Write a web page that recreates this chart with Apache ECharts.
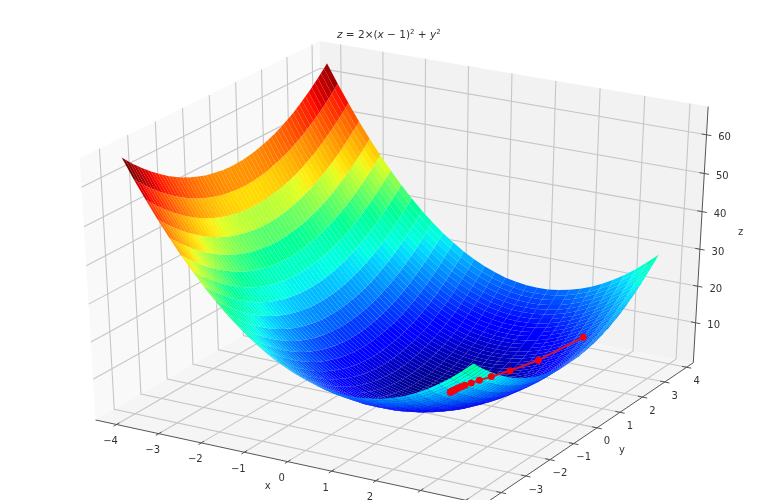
<!DOCTYPE html>
<html>
<head>
<meta charset="utf-8">
<title>gradient descent surface</title>
<style>
html, body { margin: 0; padding: 0; background: #fff; }
#main { width: 782px; height: 500px; filter: blur(0.6px); }
</style>
<script src="https://cdn.jsdelivr.net/npm/echarts@6/dist/echarts.min.js"></script>
</head>
<body>
<div id="main"></div>
<script>
// axis ranges and ticks
var xLim = [-4.5, 4.4];
var yLim = [-4.69, 4.31];
var zLim = [-1.1, 67.2];
var xTicks = [-4, -3, -2, -1, 0, 1, 2, 3, 4];
var yTicks = [-4, -3, -2, -1, 0, 1, 2, 3, 4];
var zTicks = [10, 20, 30, 40, 50, 60];

// surface samples, one row per x, one column per y
var xVals = [-4, -3.75, -3.5, -3.25, -3, -2.75, -2.5, -2.25, -2, -1.75, -1.5, -1.25, -1, -0.75, -0.5, -0.25, 0, 0.25, 0.5, 0.75, 1, 1.25, 1.5, 1.75, 2, 2.25, 2.5, 2.75, 3, 3.25, 3.5, 3.75];
var yVals = [-4, -3.875, -3.75, -3.625, -3.5, -3.375, -3.25, -3.125, -3, -2.875, -2.75, -2.625, -2.5, -2.375, -2.25, -2.125, -2, -1.875, -1.75, -1.625, -1.5, -1.375, -1.25, -1.125, -1, -0.875, -0.75, -0.625, -0.5, -0.375, -0.25, -0.125, 0, 0.125, 0.25, 0.375, 0.5, 0.625, 0.75, 0.875, 1, 1.125, 1.25, 1.375, 1.5, 1.625, 1.75, 1.875, 2, 2.125, 2.25, 2.375, 2.5, 2.625, 2.75, 2.875, 3, 3.125, 3.25, 3.375, 3.5, 3.625, 3.75];
var zRows = [
[66,65,64.1,63.1,62.3,61.4,60.6,59.8,59,58.3,57.6,56.9,56.3,55.6,55.1,54.5,54,53.5,53.1,52.6,52.3,51.9,51.6,51.3,51,50.8,50.6,50.4,50.3,50.1,50.1,50,50,50,50.1,50.1,50.3,50.4,50.6,50.8,51,51.3,51.6,51.9,52.3,52.6,53.1,53.5,54,54.5,55.1,55.6,56.3,56.9,57.6,58.3,59,59.8,60.6,61.4,62.3,63.1,64.1],
[61.1,60.1,59.2,58.2,57.4,56.5,55.7,54.9,54.1,53.4,52.7,52,51.4,50.7,50.2,49.6,49.1,48.6,48.2,47.7,47.4,47,46.7,46.4,46.1,45.9,45.7,45.5,45.4,45.2,45.2,45.1,45.1,45.1,45.2,45.2,45.4,45.5,45.7,45.9,46.1,46.4,46.7,47,47.4,47.7,48.2,48.6,49.1,49.6,50.2,50.7,51.4,52,52.7,53.4,54.1,54.9,55.7,56.5,57.4,58.2,59.2],
[56.5,55.5,54.6,53.6,52.8,51.9,51.1,50.3,49.5,48.8,48.1,47.4,46.8,46.1,45.6,45,44.5,44,43.6,43.1,42.8,42.4,42.1,41.8,41.5,41.3,41.1,40.9,40.8,40.6,40.6,40.5,40.5,40.5,40.6,40.6,40.8,40.9,41.1,41.3,41.5,41.8,42.1,42.4,42.8,43.1,43.6,44,44.5,45,45.6,46.1,46.8,47.4,48.1,48.8,49.5,50.3,51.1,51.9,52.8,53.6,54.6],
[52.1,51.1,50.2,49.2,48.4,47.5,46.7,45.9,45.1,44.4,43.7,43,42.4,41.7,41.2,40.6,40.1,39.6,39.2,38.7,38.4,38,37.7,37.4,37.1,36.9,36.7,36.5,36.4,36.2,36.2,36.1,36.1,36.1,36.2,36.2,36.4,36.5,36.7,36.9,37.1,37.4,37.7,38,38.4,38.7,39.2,39.6,40.1,40.6,41.2,41.7,42.4,43,43.7,44.4,45.1,45.9,46.7,47.5,48.4,49.2,50.2],
[48,47,46.1,45.1,44.3,43.4,42.6,41.8,41,40.3,39.6,38.9,38.3,37.6,37.1,36.5,36,35.5,35.1,34.6,34.3,33.9,33.6,33.3,33,32.8,32.6,32.4,32.3,32.1,32.1,32,32,32,32.1,32.1,32.3,32.4,32.6,32.8,33,33.3,33.6,33.9,34.3,34.6,35.1,35.5,36,36.5,37.1,37.6,38.3,38.9,39.6,40.3,41,41.8,42.6,43.4,44.3,45.1,46.1],
[44.1,43.1,42.2,41.2,40.4,39.5,38.7,37.9,37.1,36.4,35.7,35,34.4,33.7,33.2,32.6,32.1,31.6,31.2,30.7,30.4,30,29.7,29.4,29.1,28.9,28.7,28.5,28.4,28.2,28.2,28.1,28.1,28.1,28.2,28.2,28.4,28.5,28.7,28.9,29.1,29.4,29.7,30,30.4,30.7,31.2,31.6,32.1,32.6,33.2,33.7,34.4,35,35.7,36.4,37.1,37.9,38.7,39.5,40.4,41.2,42.2],
[40.5,39.5,38.6,37.6,36.8,35.9,35.1,34.3,33.5,32.8,32.1,31.4,30.8,30.1,29.6,29,28.5,28,27.6,27.1,26.8,26.4,26.1,25.8,25.5,25.3,25.1,24.9,24.8,24.6,24.6,24.5,24.5,24.5,24.6,24.6,24.8,24.9,25.1,25.3,25.5,25.8,26.1,26.4,26.8,27.1,27.6,28,28.5,29,29.6,30.1,30.8,31.4,32.1,32.8,33.5,34.3,35.1,35.9,36.8,37.6,38.6],
[37.1,36.1,35.2,34.2,33.4,32.5,31.7,30.9,30.1,29.4,28.7,28,27.4,26.7,26.2,25.6,25.1,24.6,24.2,23.7,23.4,23,22.7,22.4,22.1,21.9,21.7,21.5,21.4,21.2,21.2,21.1,21.1,21.1,21.2,21.2,21.4,21.5,21.7,21.9,22.1,22.4,22.7,23,23.4,23.7,24.2,24.6,25.1,25.6,26.2,26.7,27.4,28,28.7,29.4,30.1,30.9,31.7,32.5,33.4,34.2,35.2],
[34,33,32.1,31.1,30.3,29.4,28.6,27.8,27,26.3,25.6,24.9,24.3,23.6,23.1,22.5,22,21.5,21.1,20.6,20.3,19.9,19.6,19.3,19,18.8,18.6,18.4,18.3,18.1,18.1,18,18,18,18.1,18.1,18.3,18.4,18.6,18.8,19,19.3,19.6,19.9,20.3,20.6,21.1,21.5,22,22.5,23.1,23.6,24.3,24.9,25.6,26.3,27,27.8,28.6,29.4,30.3,31.1,32.1],
[31.1,30.1,29.2,28.2,27.4,26.5,25.7,24.9,24.1,23.4,22.7,22,21.4,20.7,20.2,19.6,19.1,18.6,18.2,17.7,17.4,17,16.7,16.4,16.1,15.9,15.7,15.5,15.4,15.2,15.2,15.1,15.1,15.1,15.2,15.2,15.4,15.5,15.7,15.9,16.1,16.4,16.7,17,17.4,17.7,18.2,18.6,19.1,19.6,20.2,20.7,21.4,22,22.7,23.4,24.1,24.9,25.7,26.5,27.4,28.2,29.2],
[28.5,27.5,26.6,25.6,24.8,23.9,23.1,22.3,21.5,20.8,20.1,19.4,18.8,18.1,17.6,17,16.5,16,15.6,15.1,14.8,14.4,14.1,13.8,13.5,13.3,13.1,12.9,12.8,12.6,12.6,12.5,12.5,12.5,12.6,12.6,12.8,12.9,13.1,13.3,13.5,13.8,14.1,14.4,14.8,15.1,15.6,16,16.5,17,17.6,18.1,18.8,19.4,20.1,20.8,21.5,22.3,23.1,23.9,24.8,25.6,26.6],
[26.1,25.1,24.2,23.2,22.4,21.5,20.7,19.9,19.1,18.4,17.7,17,16.4,15.7,15.2,14.6,14.1,13.6,13.2,12.7,12.4,12,11.7,11.4,11.1,10.9,10.7,10.5,10.4,10.2,10.2,10.1,10.1,10.1,10.2,10.2,10.4,10.5,10.7,10.9,11.1,11.4,11.7,12,12.4,12.7,13.2,13.6,14.1,14.6,15.2,15.7,16.4,17,17.7,18.4,19.1,19.9,20.7,21.5,22.4,23.2,24.2],
[24,23,22.1,21.1,20.3,19.4,18.6,17.8,17,16.3,15.6,14.9,14.3,13.6,13.1,12.5,12,11.5,11.1,10.6,10.3,9.9,9.6,9.3,9,8.8,8.6,8.4,8.3,8.1,8.1,8,8,8,8.1,8.1,8.3,8.4,8.6,8.8,9,9.3,9.6,9.9,10.3,10.6,11.1,11.5,12,12.5,13.1,13.6,14.3,14.9,15.6,16.3,17,17.8,18.6,19.4,20.3,21.1,22.1],
[22.1,21.1,20.2,19.2,18.4,17.5,16.7,15.9,15.1,14.4,13.7,13,12.4,11.7,11.2,10.6,10.1,9.6,9.2,8.7,8.4,8,7.7,7.4,7.1,6.9,6.7,6.5,6.4,6.2,6.2,6.1,6.1,6.1,6.2,6.2,6.4,6.5,6.7,6.9,7.1,7.4,7.7,8,8.4,8.7,9.2,9.6,10.1,10.6,11.2,11.7,12.4,13,13.7,14.4,15.1,15.9,16.7,17.5,18.4,19.2,20.2],
[20.5,19.5,18.6,17.6,16.8,15.9,15.1,14.3,13.5,12.8,12.1,11.4,10.8,10.1,9.6,9,8.5,8,7.6,7.1,6.8,6.4,6.1,5.8,5.5,5.3,5.1,4.9,4.8,4.6,4.6,4.5,4.5,4.5,4.6,4.6,4.8,4.9,5.1,5.3,5.5,5.8,6.1,6.4,6.8,7.1,7.6,8,8.5,9,9.6,10.1,10.8,11.4,12.1,12.8,13.5,14.3,15.1,15.9,16.8,17.6,18.6],
[19.1,18.1,17.2,16.2,15.4,14.5,13.7,12.9,12.1,11.4,10.7,10,9.4,8.7,8.2,7.6,7.1,6.6,6.2,5.7,5.4,5,4.7,4.4,4.1,3.9,3.7,3.5,3.4,3.2,3.2,3.1,3.1,3.1,3.2,3.2,3.4,3.5,3.7,3.9,4.1,4.4,4.7,5,5.4,5.7,6.2,6.6,7.1,7.6,8.2,8.7,9.4,10,10.7,11.4,12.1,12.9,13.7,14.5,15.4,16.2,17.2],
[18,17,16.1,15.1,14.3,13.4,12.6,11.8,11,10.3,9.6,8.9,8.3,7.6,7.1,6.5,6,5.5,5.1,4.6,4.3,3.9,3.6,3.3,3,2.8,2.6,2.4,2.3,2.1,2.1,2,2,2,2.1,2.1,2.3,2.4,2.6,2.8,3,3.3,3.6,3.9,4.3,4.6,5.1,5.5,6,6.5,7.1,7.6,8.3,8.9,9.6,10.3,11,11.8,12.6,13.4,14.3,15.1,16.1],
[17.1,16.1,15.2,14.2,13.4,12.5,11.7,10.9,10.1,9.4,8.7,8,7.4,6.7,6.2,5.6,5.1,4.6,4.2,3.7,3.4,3,2.7,2.4,2.1,1.9,1.7,1.5,1.4,1.2,1.2,1.1,1.1,1.1,1.2,1.2,1.4,1.5,1.7,1.9,2.1,2.4,2.7,3,3.4,3.7,4.2,4.6,5.1,5.6,6.2,6.7,7.4,8,8.7,9.4,10.1,10.9,11.7,12.5,13.4,14.2,15.2],
[16.5,15.5,14.6,13.6,12.8,11.9,11.1,10.3,9.5,8.8,8.1,7.4,6.8,6.1,5.6,5,4.5,4,3.6,3.1,2.8,2.4,2.1,1.8,1.5,1.3,1.1,0.9,0.8,0.6,0.6,0.5,0.5,0.5,0.6,0.6,0.8,0.9,1.1,1.3,1.5,1.8,2.1,2.4,2.8,3.1,3.6,4,4.5,5,5.6,6.1,6.8,7.4,8.1,8.8,9.5,10.3,11.1,11.9,12.8,13.6,14.6],
[16.1,15.1,14.2,13.2,12.4,11.5,10.7,9.9,9.1,8.4,7.7,7,6.4,5.7,5.2,4.6,4.1,3.6,3.2,2.7,2.4,2,1.7,1.4,1.1,0.9,0.7,0.5,0.4,0.2,0.2,0.1,0.1,0.1,0.2,0.2,0.4,0.5,0.7,0.9,1.1,1.4,1.7,2,2.4,2.7,3.2,3.6,4.1,4.6,5.2,5.7,6.4,7,7.7,8.4,9.1,9.9,10.7,11.5,12.4,13.2,14.2],
[16,15,14.1,13.1,12.3,11.4,10.6,9.8,9,8.3,7.6,6.9,6.3,5.6,5.1,4.5,4,3.5,3.1,2.6,2.3,1.9,1.6,1.3,1,0.8,0.6,0.4,0.3,0.1,0.1,0,0,0,0.1,0.1,0.3,0.4,0.6,0.8,1,1.3,1.6,1.9,2.3,2.6,3.1,3.5,4,4.5,5.1,5.6,6.3,6.9,7.6,8.3,9,9.8,10.6,11.4,12.3,13.1,14.1],
[16.1,15.1,14.2,13.2,12.4,11.5,10.7,9.9,9.1,8.4,7.7,7,6.4,5.7,5.2,4.6,4.1,3.6,3.2,2.7,2.4,2,1.7,1.4,1.1,0.9,0.7,0.5,0.4,0.2,0.2,0.1,0.1,0.1,0.2,0.2,0.4,0.5,0.7,0.9,1.1,1.4,1.7,2,2.4,2.7,3.2,3.6,4.1,4.6,5.2,5.7,6.4,7,7.7,8.4,9.1,9.9,10.7,11.5,12.4,13.2,14.2],
[16.5,15.5,14.6,13.6,12.8,11.9,11.1,10.3,9.5,8.8,8.1,7.4,6.8,6.1,5.6,5,4.5,4,3.6,3.1,2.8,2.4,2.1,1.8,1.5,1.3,1.1,0.9,0.8,0.6,0.6,0.5,0.5,0.5,0.6,0.6,0.8,0.9,1.1,1.3,1.5,1.8,2.1,2.4,2.8,3.1,3.6,4,4.5,5,5.6,6.1,6.8,7.4,8.1,8.8,9.5,10.3,11.1,11.9,12.8,13.6,14.6],
[17.1,16.1,15.2,14.2,13.4,12.5,11.7,10.9,10.1,9.4,8.7,8,7.4,6.7,6.2,5.6,5.1,4.6,4.2,3.7,3.4,3,2.7,2.4,2.1,1.9,1.7,1.5,1.4,1.2,1.2,1.1,1.1,1.1,1.2,1.2,1.4,1.5,1.7,1.9,2.1,2.4,2.7,3,3.4,3.7,4.2,4.6,5.1,5.6,6.2,6.7,7.4,8,8.7,9.4,10.1,10.9,11.7,12.5,13.4,14.2,15.2],
[18,17,16.1,15.1,14.3,13.4,12.6,11.8,11,10.3,9.6,8.9,8.3,7.6,7.1,6.5,6,5.5,5.1,4.6,4.3,3.9,3.6,3.3,3,2.8,2.6,2.4,2.3,2.1,2.1,2,2,2,2.1,2.1,2.3,2.4,2.6,2.8,3,3.3,3.6,3.9,4.3,4.6,5.1,5.5,6,6.5,7.1,7.6,8.3,8.9,9.6,10.3,11,11.8,12.6,13.4,14.3,15.1,16.1],
[19.1,18.1,17.2,16.2,15.4,14.5,13.7,12.9,12.1,11.4,10.7,10,9.4,8.7,8.2,7.6,7.1,6.6,6.2,5.7,5.4,5,4.7,4.4,4.1,3.9,3.7,3.5,3.4,3.2,3.2,3.1,3.1,3.1,3.2,3.2,3.4,3.5,3.7,3.9,4.1,4.4,4.7,5,5.4,5.7,6.2,6.6,7.1,7.6,8.2,8.7,9.4,10,10.7,11.4,12.1,12.9,13.7,14.5,15.4,16.2,17.2],
[20.5,19.5,18.6,17.6,16.8,15.9,15.1,14.3,13.5,12.8,12.1,11.4,10.8,10.1,9.6,9,8.5,8,7.6,7.1,6.8,6.4,6.1,5.8,5.5,5.3,5.1,4.9,4.8,4.6,4.6,4.5,4.5,4.5,4.6,4.6,4.8,4.9,5.1,5.3,5.5,5.8,6.1,6.4,6.8,7.1,7.6,8,8.5,9,9.6,10.1,10.8,11.4,12.1,12.8,13.5,14.3,15.1,15.9,16.8,17.6,18.6],
[22.1,21.1,20.2,19.2,18.4,17.5,16.7,15.9,15.1,14.4,13.7,13,12.4,11.7,11.2,10.6,10.1,9.6,9.2,8.7,8.4,8,7.7,7.4,7.1,6.9,6.7,6.5,6.4,6.2,6.2,6.1,6.1,6.1,6.2,6.2,6.4,6.5,6.7,6.9,7.1,7.4,7.7,8,8.4,8.7,9.2,9.6,10.1,10.6,11.2,11.7,12.4,13,13.7,14.4,15.1,15.9,16.7,17.5,18.4,19.2,20.2],
[24,23,22.1,21.1,20.3,19.4,18.6,17.8,17,16.3,15.6,14.9,14.3,13.6,13.1,12.5,12,11.5,11.1,10.6,10.3,9.9,9.6,9.3,9,8.8,8.6,8.4,8.3,8.1,8.1,8,8,8,8.1,8.1,8.3,8.4,8.6,8.8,9,9.3,9.6,9.9,10.3,10.6,11.1,11.5,12,12.5,13.1,13.6,14.3,14.9,15.6,16.3,17,17.8,18.6,19.4,20.3,21.1,22.1],
[26.1,25.1,24.2,23.2,22.4,21.5,20.7,19.9,19.1,18.4,17.7,17,16.4,15.7,15.2,14.6,14.1,13.6,13.2,12.7,12.4,12,11.7,11.4,11.1,10.9,10.7,10.5,10.4,10.2,10.2,10.1,10.1,10.1,10.2,10.2,10.4,10.5,10.7,10.9,11.1,11.4,11.7,12,12.4,12.7,13.2,13.6,14.1,14.6,15.2,15.7,16.4,17,17.7,18.4,19.1,19.9,20.7,21.5,22.4,23.2,24.2],
[28.5,27.5,26.6,25.6,24.8,23.9,23.1,22.3,21.5,20.8,20.1,19.4,18.8,18.1,17.6,17,16.5,16,15.6,15.1,14.8,14.4,14.1,13.8,13.5,13.3,13.1,12.9,12.8,12.6,12.6,12.5,12.5,12.5,12.6,12.6,12.8,12.9,13.1,13.3,13.5,13.8,14.1,14.4,14.8,15.1,15.6,16,16.5,17,17.6,18.1,18.8,19.4,20.1,20.8,21.5,22.3,23.1,23.9,24.8,25.6,26.6],
[31.1,30.1,29.2,28.2,27.4,26.5,25.7,24.9,24.1,23.4,22.7,22,21.4,20.7,20.2,19.6,19.1,18.6,18.2,17.7,17.4,17,16.7,16.4,16.1,15.9,15.7,15.5,15.4,15.2,15.2,15.1,15.1,15.1,15.2,15.2,15.4,15.5,15.7,15.9,16.1,16.4,16.7,17,17.4,17.7,18.2,18.6,19.1,19.6,20.2,20.7,21.4,22,22.7,23.4,24.1,24.9,25.7,26.5,27.4,28.2,29.2]
];

// red descent path
var pathX = [3, 2.2, 1.72, 1.43, 1.26, 1.16, 1.09, 1.06, 1.03, 1.02, 1.01, 1.01, 1, 1, 1, 1];
var pathY = [2, 1.6, 1.28, 1.02, 0.82, 0.66, 0.52, 0.42, 0.34, 0.27, 0.22, 0.17, 0.14, 0.11, 0.09, 0.07];
var pathZ = [12, 5.44, 2.68, 1.42, 0.81, 0.48, 0.29, 0.18, 0.12, 0.07, 0.05, 0.03, 0.02, 0.01, 0.01, 0];

// colour ramp (jet-like, greens more saturated)
var jetPos = {
    r: [0, 0.48, 0.66, 0.89, 1],
    g: [0, 0.125, 0.375, 0.64, 0.91, 1],
    b: [0, 0.11, 0.34, 0.68, 1]
};
var jetVal = {
    r: [0, 0, 1, 1, 0.5],
    g: [0, 0, 1, 1, 0, 0],
    b: [0.5, 1, 1, 0, 0]
};

function jetPart(k, t) {
    var p = jetPos[k], v = jetVal[k];
    for (var i = 1; i < p.length; i++) {
        if (t <= p[i]) {
            return v[i - 1] + (v[i] - v[i - 1]) * (t - p[i - 1]) / (p[i] - p[i - 1]);
        }
    }
    return v[v.length - 1];
}

function jet(t) {
    return 'rgb(' + Math.round(jetPart('r', t) * 255) + ',' + Math.round(jetPart('g', t) * 255) + ',' + Math.round(jetPart('b', t) * 255) + ')';
}

// view: elev 30, azim -60, dist 10
var elev = 30 * Math.PI / 180, azim = -60 * Math.PI / 180, dist = 10;
var n = [Math.cos(azim) * Math.cos(elev), Math.sin(azim) * Math.cos(elev), Math.sin(elev)];
var uu = [-Math.sin(azim), Math.cos(azim), 0];
var vv = [n[1] * uu[2] - n[2] * uu[1], n[2] * uu[0] - n[0] * uu[2], n[0] * uu[1] - n[1] * uu[0]];

// box coords run -0.5..0.5
function projBox(X, Y, Z) {
    var d = dist - (n[0] * X + n[1] * Y + n[2] * Z);
    return [(uu[0] * X + uu[1] * Y) / d, (vv[0] * X + vv[1] * Y + vv[2] * Z) / d, d];
}
function bx(x) { return (x - xLim[0]) / (xLim[1] - xLim[0]) - 0.5; }
function by(y) { return (y - yLim[0]) / (yLim[1] - yLim[0]) - 0.5; }
function bz(z) { return (z - zLim[0]) / (zLim[1] - zLim[0]) - 0.5; }
function proj(x, y, z) { return projBox(bx(x), by(y), bz(z)); }

// surface faces, far ones first
var faces = [];
var zMin = Infinity, zMax = -Infinity;
for (var i = 0; i < xVals.length - 1; i++) {
    for (var j = 0; j < yVals.length - 1; j++) {
        var a = proj(xVals[i], yVals[j], zRows[i][j]);
        var b = proj(xVals[i + 1], yVals[j], zRows[i + 1][j]);
        var c = proj(xVals[i + 1], yVals[j + 1], zRows[i + 1][j + 1]);
        var e = proj(xVals[i], yVals[j + 1], zRows[i][j + 1]);
        var mean = (zRows[i][j] + zRows[i + 1][j] + zRows[i + 1][j + 1] + zRows[i][j + 1]) / 4;
        zMin = Math.min(zMin, mean);
        zMax = Math.max(zMax, mean);
        faces.push({ value: [a[0], a[1], b[0], b[1], c[0], c[1], e[0], e[1], mean], depth: (a[2] + b[2] + c[2] + e[2]) / 4 });
    }
}
faces.sort(function (p, q) { return q.depth - p.depth; });

function renderFace(params, api) {
    var pts = [];
    for (var k = 0; k < 4; k++) {
        pts.push(api.coord([api.value(k * 2), api.value(k * 2 + 1)]));
    }
    return {
        type: 'polygon',
        shape: { points: pts },
        style: { fill: jet((api.value(8) - zMin) / (zMax - zMin)) }
    };
}

// panes
var panes = [
    { value: [-0.5, -0.5, -0.5, -0.5, 0.5, -0.5, -0.5, 0.5, 0.5, -0.5, -0.5, 0.5], fill: '#f9f9f9' },
    { value: [-0.5, 0.5, -0.5, 0.5, 0.5, -0.5, 0.5, 0.5, 0.5, -0.5, 0.5, 0.5], fill: '#f2f2f2' },
    { value: [-0.5, -0.5, -0.5, 0.5, -0.5, -0.5, 0.5, 0.5, -0.5, -0.5, 0.5, -0.5], fill: '#f5f5f5' }
];

function renderPane(params, api) {
    var item = panes[params.dataIndex], pts = [];
    for (var k = 0; k < 4; k++) {
        var p = projBox(item.value[k * 3], item.value[k * 3 + 1], item.value[k * 3 + 2]);
        pts.push(api.coord([p[0], p[1]]));
    }
    return { type: 'polygon', shape: { points: pts }, style: { fill: item.fill } };
}

// grid lines, axis lines and tick marks as polylines in box coords
var gridLines = [], axisLines = [];
xTicks.forEach(function (t) {
    var X = bx(t);
    gridLines.push([[X, -0.5, -0.5], [X, 0.5, -0.5], [X, 0.5, 0.5]]);
    axisLines.push([[X, -0.512, -0.5], [X, -0.488, -0.5]]);
});
yTicks.forEach(function (t) {
    var Y = by(t);
    gridLines.push([[0.5, Y, -0.5], [-0.5, Y, -0.5], [-0.5, Y, 0.5]]);
    axisLines.push([[0.512, Y, -0.5], [0.488, Y, -0.5]]);
});
zTicks.forEach(function (t) {
    var Z = bz(t);
    gridLines.push([[0.5, 0.5, Z], [-0.5, 0.5, Z], [-0.5, -0.5, Z]]);
    axisLines.push([[0.512, 0.5, Z], [0.488, 0.5, Z]]);
});
axisLines.push([[-0.5, -0.5, -0.5], [0.5, -0.5, -0.5]]);
axisLines.push([[0.5, -0.5, -0.5], [0.5, 0.5, -0.5]]);
axisLines.push([[0.5, 0.5, -0.5], [0.5, 0.5, 0.5]]);

function lineRenderer(list, color, width) {
    return function (params, api) {
        var pts = list[params.dataIndex].map(function (q) {
            var p = projBox(q[0], q[1], q[2]);
            return api.coord([p[0], p[1]]);
        });
        return { type: 'polyline', shape: { points: pts }, style: { stroke: color, lineWidth: width, fill: null } };
    };
}

// tick and axis labels
var labels = [];
function tickText(t) { return (t < 0 ? '\u2212' + (-t) : '' + t); }
xTicks.forEach(function (t) { labels.push({ at: projBox(bx(t), -0.5, -0.5), text: tickText(t), dx: -6, dy: 17 }); });
yTicks.forEach(function (t) { labels.push({ at: projBox(0.5, by(t), -0.5), text: tickText(t), dx: 10, dy: 14 }); });
zTicks.forEach(function (t) { labels.push({ at: projBox(0.5, 0.5, bz(t)), text: tickText(t), dx: 18, dy: 3 }); });
labels.push({ at: projBox(bx(0), -0.5, -0.5), text: 'x', dx: -20, dy: 25 });
labels.push({ at: projBox(0.5, by(0), -0.5), text: 'y', dx: 25, dy: 23 });
labels.push({ at: projBox(0.5, 0.5, bz(33)), text: 'z', dx: 40, dy: -6 });

function renderLabel(params, api) {
    var item = labels[params.dataIndex];
    var pt = api.coord([item.at[0], item.at[1]]);
    return {
        type: 'text',
        style: {
            x: pt[0] + item.dx, y: pt[1] + item.dy, text: item.text,
            fill: '#333', fontSize: 10, fontFamily: 'DejaVu Sans',
            align: 'center', verticalAlign: 'middle'
        }
    };
}

var pathData = pathX.map(function (x, idx) {
    var p = proj(x, pathY[idx], pathZ[idx]);
    return [p[0], p[1]];
});

function customSeries(data, render, z) {
    return { type: 'custom', coordinateSystem: 'cartesian2d', data: data, renderItem: render, silent: true, clip: false, z: z, animation: false, progressive: 0 };
}
function idx(list) { return list.map(function (v, k) { return [k]; }); }

var myChart = echarts.init(document.getElementById('main'), null, { renderer: 'canvas' });
var option = {
    animation: false,
    backgroundColor: '#fff',
    title: {
        text: '{i|z} = 2\u00d7({i|x} \u2212 1){s|2} + {i|y}{s|2}',
        left: 337,
        top: 29,
        padding: 0,
        textStyle: {
            fontFamily: 'DejaVu Sans', fontSize: 10.5, fontWeight: 'normal', color: '#333',
            rich: {
                i: { fontStyle: 'italic', fontFamily: 'DejaVu Sans', fontSize: 10.5, color: '#333' },
                s: { fontSize: 7, fontFamily: 'DejaVu Sans', color: '#333', verticalAlign: 'top', padding: [0, 0, 5, 0] }
            }
        }
    },
    grid: { left: 0, right: 0, top: 0, bottom: 0 },
    xAxis: { type: 'value', min: -0.089, max: 0.0854, show: false },
    yAxis: { type: 'value', min: -0.07877, max: 0.08862, show: false },
    series: [
        customSeries(idx(panes), renderPane, 1),
        customSeries(idx(gridLines), lineRenderer(gridLines, '#c6c6c6', 1.1), 2),
        customSeries(idx(axisLines), lineRenderer(axisLines, '#555', 1), 3),
        customSeries(faces, renderFace, 4),
        {
            type: 'line', data: pathData, z: 5, silent: true, animation: false,
            symbol: 'circle', symbolSize: 7,
            lineStyle: { color: '#e0102a', width: 2 },
            itemStyle: { color: '#f5000f' }
        },
        customSeries(idx(labels), renderLabel, 6)
    ]
};
myChart.setOption(option);
</script>
</body>
</html>
